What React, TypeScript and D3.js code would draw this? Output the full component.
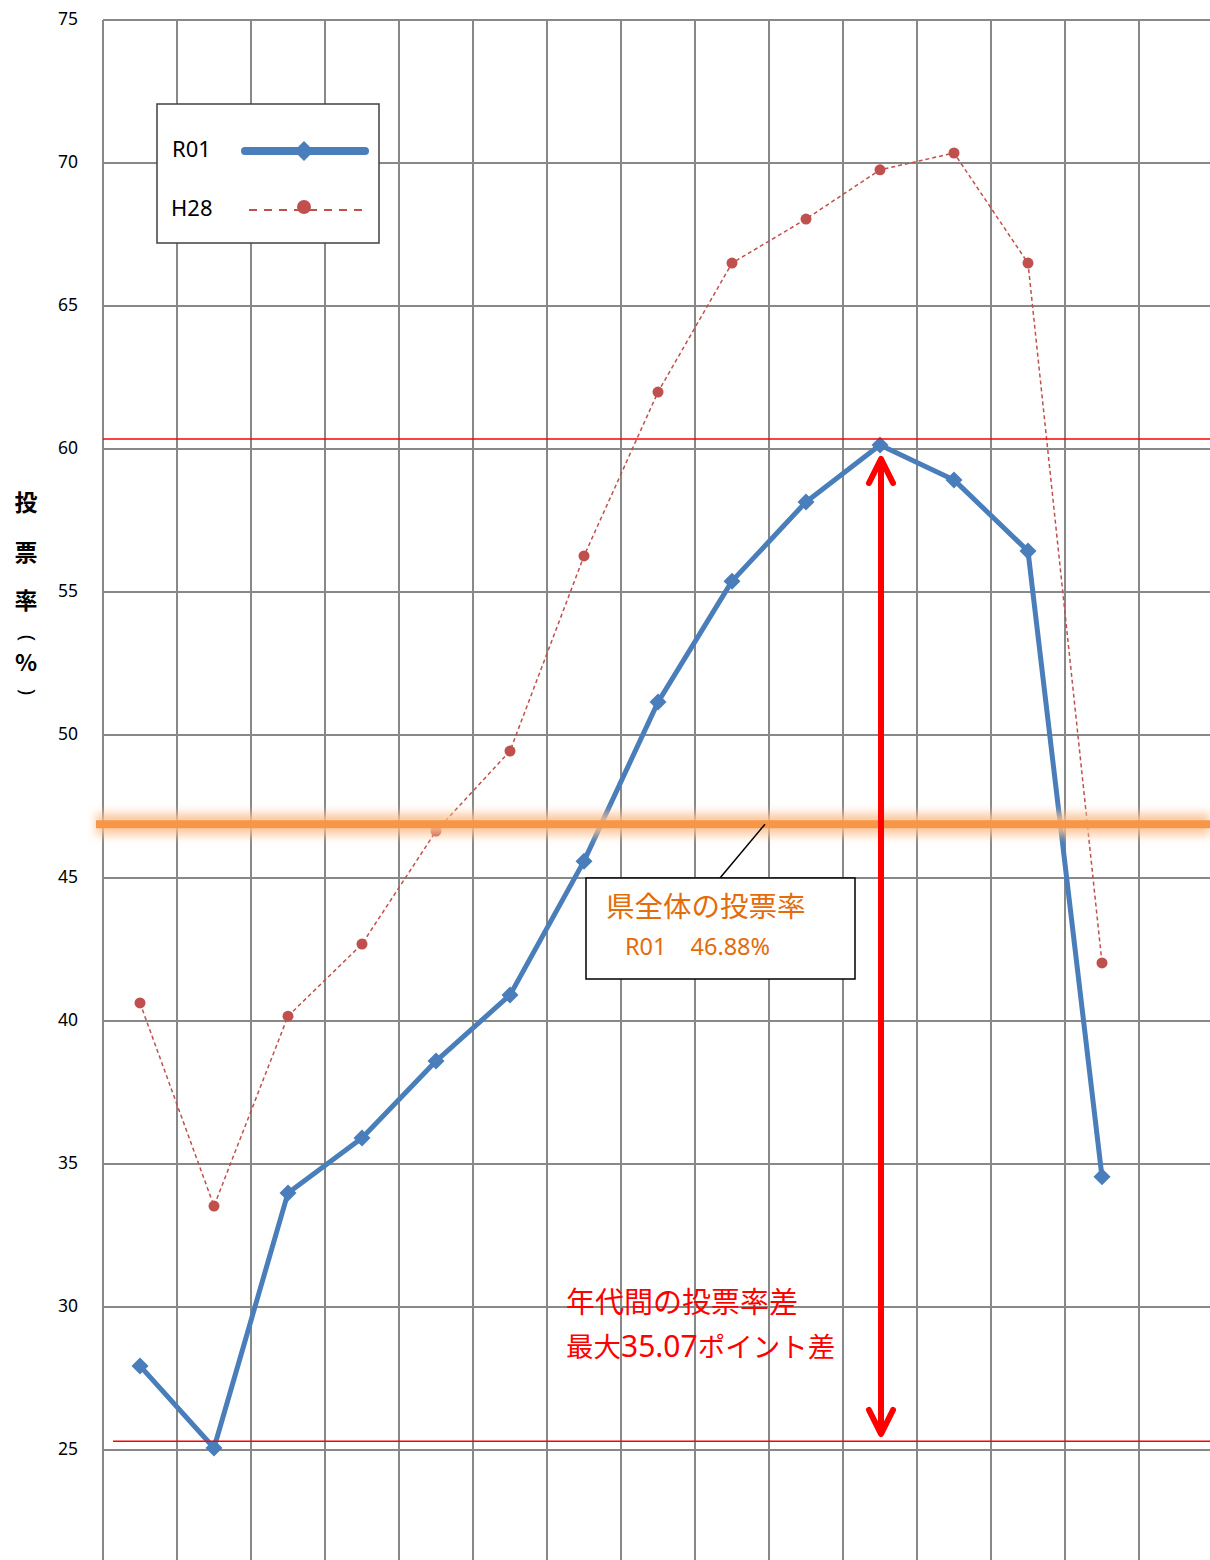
import React from "react";
import * as d3 from "d3";

const categories = ["18歳", "19歳", "20～24歳", "25～29歳", "30～34歳", "35～39歳", "40～44歳", "45～49歳", "50～54歳", "55～59歳", "60～64歳", "65～69歳", "70～74歳", "75～79歳", "80歳以上"];
const r01Values = [27.94, 25.07, 33.99, 35.91, 38.6, 40.91, 45.59, 51.15, 55.38, 58.15, 60.14, 58.92, 56.43, 34.55];
const h28Values = [40.63, 33.53, 40.17, 42.69, 46.64, 49.44, 56.26, 61.99, 66.5, 68.04, 69.76, 70.35, 66.5, 42.03];
const yTicks = [25, 30, 35, 40, 45, 50, 55, 60, 65, 70, 75];
const prefTurnout = 46.88;
const maxLineValue = 60.35;
const minLineValue = 25.31;

const W = 1210;
const H = 1560;

export default function App() {
  const x = d3.scaleBand<string>().domain(categories).range([103, 103 + 74 * categories.length]);
  const y = d3.scaleLinear().domain([25, 75]).range([1450, 20]);
  const cx = (i: number) => (x(categories[i]) as number) + x.bandwidth() / 2;

  const line = d3
    .line<number>()
    .x((_, i) => cx(i))
    .y((d) => y(d));

  const gridColor = "#888888";
  const blue = "#4A7EBB";
  const red = "#C0504D";
  const jp = "'Noto Sans CJK JP', 'Noto Sans', sans-serif";
  const lat = "'Noto Sans', 'Open Sans', sans-serif";

  const diamond = (px: number, py: number, s: number) =>
    `M${px},${py - s}L${px + s},${py}L${px},${py + s}L${px - s},${py}Z`;

  const arrowX = cx(10) + 1;
  const arrowTop = 459;
  const arrowBot = 1434;
  const yp = y(prefTurnout);

  return (
    <svg width={W} height={H} style={{ position: "absolute", left: 0, top: 0, background: "#fff" }}>
      <defs>
        <filter id="glow" filterUnits="userSpaceOnUse" x={0} y={yp - 60} width={W} height={120}>
          <feGaussianBlur stdDeviation="5" />
        </filter>
      </defs>
      {/* grid */}
      {yTicks.map((t) => (
        <line key={"h" + t} x1={103} x2={W} y1={y(t)} y2={y(t)} stroke={gridColor} strokeWidth={2} />
      ))}
      {categories.map((c) => (
        <line key={"v" + c} x1={x(c) as number} x2={x(c) as number} y1={y(75)} y2={H} stroke={gridColor} strokeWidth={2} />
      ))}
      {/* tick labels */}
      {yTicks.map((t) => (
        <text key={"t" + t} x={78} y={y(t)} textAnchor="end" dominantBaseline="middle" fontFamily={lat} fontSize={17.5} fill="#000">
          {t}
        </text>
      ))}
      {/* y axis title */}
      <g fontFamily={jp} fontWeight="bold" fontSize={23} textAnchor="middle" fill="#000">
        <text x={26} y={505} dominantBaseline="middle">投</text>
        <text x={26} y={555} dominantBaseline="middle">票</text>
        <text x={26} y={603} dominantBaseline="middle">率</text>
        <text x={0} y={0} dominantBaseline="middle" fontSize={20} fontWeight="normal" fontFamily={lat} transform="translate(26,638) rotate(90)">(</text>
        <text x={26} y={665} dominantBaseline="middle">%</text>
        <text x={0} y={0} dominantBaseline="middle" fontSize={20} fontWeight="normal" fontFamily={lat} transform="translate(26,692) rotate(90)">)</text>
      </g>

      {/* H28 series */}
      <path d={line(h28Values) || ""} fill="none" stroke={red} strokeWidth={1.5} strokeDasharray="4,3" />
      {h28Values.map((v, i) => (
        <circle key={"hc" + i} cx={cx(i)} cy={y(v)} r={5.5} fill={red} />
      ))}

      {/* R01 series */}
      <path d={line(r01Values) || ""} fill="none" stroke={blue} strokeWidth={5} strokeLinejoin="round" />
      {r01Values.map((v, i) => (
        <path key={"rd" + i} d={diamond(cx(i), y(v), 8.5)} fill={blue} />
      ))}

      {/* red reference lines */}
      <line x1={103} x2={W} y1={y(maxLineValue)} y2={y(maxLineValue)} stroke="#FF0000" strokeWidth={1.5} />
      <line x1={113} x2={W} y1={y(minLineValue)} y2={y(minLineValue)} stroke="#FF0000" strokeWidth={1.5} />

      {/* prefecture turnout line with glow */}
      <line x1={96} x2={W} y1={yp} y2={yp} stroke="#FAC090" strokeOpacity={0.85} strokeWidth={22} filter="url(#glow)" />
      <line x1={96} x2={W} y1={yp} y2={yp} stroke="#F79646" strokeWidth={8} />

      {/* arrow */}
      <g stroke="#FF0000" strokeWidth={6} fill="none" strokeLinecap="round" strokeLinejoin="round">
        <line x1={arrowX} x2={arrowX} y1={arrowTop + 4} y2={arrowBot - 4} />
        <polyline points={`${arrowX - 12},${arrowTop + 24} ${arrowX},${arrowTop} ${arrowX + 12},${arrowTop + 24}`} />
        <polyline points={`${arrowX - 12},${arrowBot - 24} ${arrowX},${arrowBot} ${arrowX + 12},${arrowBot - 24}`} />
      </g>

      {/* callout */}
      <line x1={720} y1={878} x2={765} y2={yp} stroke="#000" strokeWidth={1.5} />
      <rect x={586} y={878} width={269} height={101} fill="#fff" stroke="#000" strokeWidth={1.5} />
      <text x={606} y={917} fontFamily={jp} fontSize={28.5} fill="#E46C0A">県全体の投票率</text>
      <text x={625} y={955} fontFamily={lat} fontSize={23.5} fill="#E46C0A">R01　46.88%</text>

      {/* difference annotation */}
      <text x={566} y={1313} fontFamily={jp} fontSize={29} fill="#FF0000">年代間の投票率差</text>
      <text x={566} y={1357} fontFamily={jp} fontSize={27.5} fill="#FF0000">
        最大<tspan fontFamily={lat} fontSize={30}>35.07</tspan>ポイント差
      </text>

      {/* legend */}
      <rect x={157} y={104} width={222} height={139} fill="#fff" stroke="#404040" strokeWidth={1.5} />
      <text x={172} y={151} dominantBaseline="middle" fontFamily={lat} fontSize={22} fill="#000">R01</text>
      <line x1={245} x2={365} y1={151} y2={151} stroke={blue} strokeWidth={8} strokeLinecap="round" />
      <path d={diamond(304, 151, 10)} fill={blue} />
      <text x={171} y={210} dominantBaseline="middle" fontFamily={lat} fontSize={22} fill="#000">H28</text>
      <line x1={249} x2={364} y1={210} y2={210} stroke={red} strokeWidth={2} strokeDasharray="8,7" />
      <circle cx={304} cy={207} r={7} fill={red} />
    </svg>
  );
}
